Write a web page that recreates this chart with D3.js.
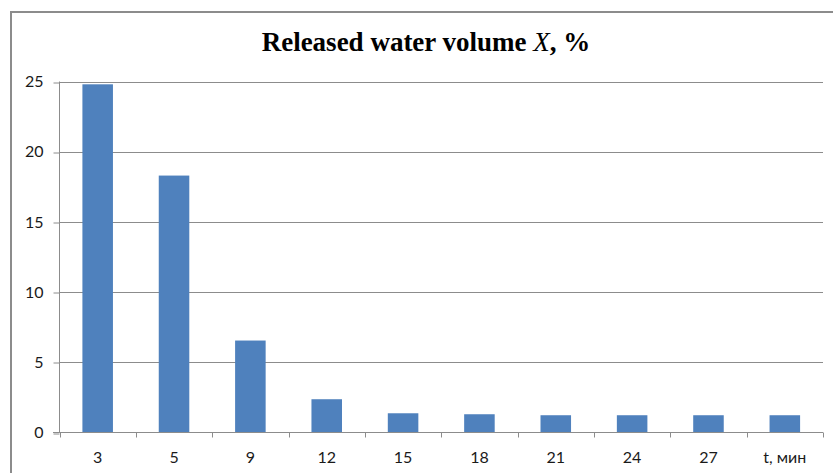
<!DOCTYPE html>
<html><head><meta charset="utf-8">
<script src="https://cdn.jsdelivr.net/npm/d3@7"></script>
<style>body{margin:0;background:#fff}svg{display:block}</style>
</head><body>
<script>
const categories = ["3","5","9","12","15","18","21","24","27","t, мин"];
const values = [24.8, 18.3, 6.55, 2.37, 1.37, 1.30, 1.23, 1.23, 1.23, 1.23];
const yTicks = [0,5,10,15,20,25];

const W = 833, H = 473;
const svg = d3.select("body").append("svg").attr("width", W).attr("height", H);

svg.append("rect").attr("x",11).attr("y",12).attr("width",840).attr("height",480)
  .attr("fill","#fff").attr("stroke","#8c8c8c").attr("stroke-width",2);

const x = d3.scaleBand().domain(categories).range([59.5, 823]).paddingInner(0.6).paddingOuter(0.3);
const xb = d3.scaleBand().domain(categories).range([59.5, 823]);
const y = d3.scaleLinear().domain([0,25]).range([432.5, 81.5]);

// gridlines
svg.append("g").selectAll("line").data(yTicks.filter(d=>d>0)).join("line")
  .attr("x1",59.5).attr("x2",823).attr("y1",d=>Math.round(y(d))+0.5).attr("y2",d=>Math.round(y(d))+0.5)
  .attr("stroke","#8c8c8c").attr("stroke-width",1);

// bars
svg.append("g").selectAll("rect").data(values).join("rect")
  .attr("x",(d,i)=>x(categories[i])).attr("width",x.bandwidth())
  .attr("y",d=>y(d)).attr("height",d=>y(0)-y(d))
  .attr("fill","#4f81bd");

// y axis
const yAxis = d3.axisLeft(y).tickValues(yTicks).tickSize(6).tickPadding(10);
const gy = svg.append("g").attr("transform","translate(59.5,0)").call(yAxis);
gy.select(".domain").attr("stroke","#8c8c8c").attr("d","M0,81.5V432.5");
gy.selectAll(".tick line").attr("stroke","#8c8c8c").attr("transform",d=>`translate(0,${Math.round(y(d))+0.5-y(d)})`);
gy.selectAll("text").attr("font-family","Lato, 'Noto Sans', sans-serif").attr("font-size","16px").attr("fill","#1a1a1a");

// x axis
const gx = svg.append("g").attr("transform","translate(0,432.5)");
gx.append("line").attr("x1",53).attr("x2",823).attr("stroke","#8c8c8c");
gx.selectAll("line.t").data(categories.map(c=>xb(c)).concat([823])).join("line").attr("class","t")
  .attr("x1",d=>Math.round(d)+0.5).attr("x2",d=>Math.round(d)+0.5).attr("y1",0).attr("y2",5).attr("stroke","#8c8c8c");
gx.selectAll("text").data(categories).join("text")
  .attr("x",d=>xb(d)+xb.bandwidth()/2).attr("y",30.5).attr("text-anchor","middle")
  .attr("font-family","Lato, 'Noto Sans', sans-serif").attr("font-size","16px").attr("fill","#1a1a1a")
  .text(d=>d);

// title
const t = svg.append("text").attr("x",426).attr("y",51).attr("text-anchor","middle")
  .attr("font-family","'Liberation Serif', 'Times New Roman', serif").attr("font-size","27px")
  .attr("font-weight","bold").attr("fill","#000");
t.append("tspan").text("Released water volume ");
t.append("tspan").attr("font-style","italic").attr("font-weight","normal").text("X");
t.append("tspan").text(", %");
</script>
</body></html>
